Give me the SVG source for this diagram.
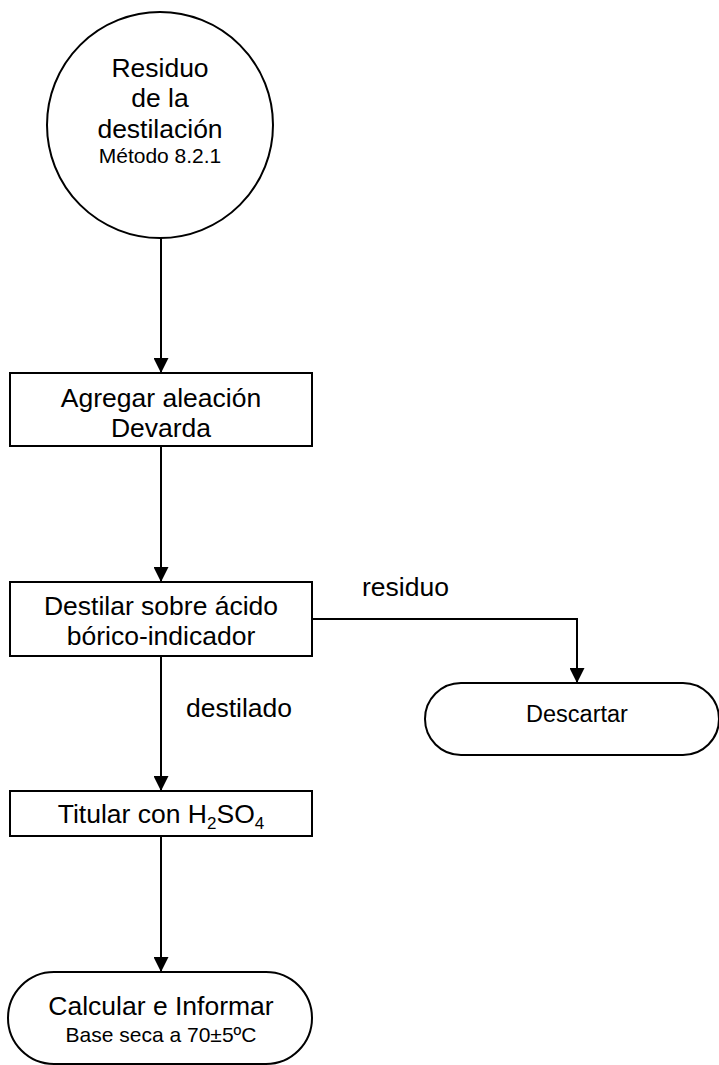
<svg xmlns="http://www.w3.org/2000/svg" width="719" height="1065" viewBox="0 0 719 1065">
<style>
.shape{fill:#fff;stroke:#000;stroke-width:2}
.conn{fill:none;stroke:#000;stroke-width:2}
text{font-family:"Liberation Sans",Arial,sans-serif;fill:#000}
.big{font-size:26.5px}
.small{font-size:21px}
.mid{font-size:23.5px}
</style>
<defs>
<marker id="arr" markerUnits="userSpaceOnUse" markerWidth="15" markerHeight="15" refX="15" refY="7.5" orient="auto" viewBox="0 0 15 15">
<path d="M0,0 L15,7.5 L0,15 Z" fill="#000"/>
</marker>
</defs>
<g id="connectors">
<path class="conn" d="M161,238 V373" marker-end="url(#arr)"/>
<path class="conn" d="M161,446 V582" marker-end="url(#arr)"/>
<path class="conn" d="M161,656 V791" marker-end="url(#arr)"/>
<path class="conn" d="M161,836 V972" marker-end="url(#arr)"/>
<path class="conn" d="M312,619 H577 V683" marker-end="url(#arr)"/>
<text class="big" x="362" y="596">residuo</text>
<text class="big" x="186" y="717">destilado</text>
</g>
<g id="n1">
<circle class="shape" cx="160" cy="125" r="113"/>
<text class="big" x="160" y="77" text-anchor="middle">Residuo</text>
<text class="big" x="160" y="107" text-anchor="middle">de la</text>
<text class="big" x="160" y="138" text-anchor="middle">destilación</text>
<text class="small" x="160" y="163" text-anchor="middle">Método 8.2.1</text>
</g>
<g id="n2">
<rect class="shape" x="10" y="373" width="302" height="73"/>
<text class="big" x="161" y="407" text-anchor="middle">Agregar aleación</text>
<text class="big" x="161" y="437" text-anchor="middle">Devarda</text>
</g>
<g id="n3">
<rect class="shape" x="10" y="582" width="302" height="74"/>
<text class="big" x="161" y="615" text-anchor="middle">Destilar sobre ácido</text>
<text class="big" x="161" y="645" text-anchor="middle">bórico-indicador</text>
</g>
<g id="n4">
<rect class="shape" x="425" y="683" width="294" height="72" rx="36" ry="36"/>
<text class="mid" x="577" y="722" text-anchor="middle">Descartar</text>
</g>
<g id="n5">
<rect class="shape" x="10" y="791" width="302" height="45"/>
<text class="big" x="161" y="823" text-anchor="middle">Titular con H<tspan font-size="17" dy="6">2</tspan><tspan dy="-6">SO</tspan><tspan font-size="17" dy="6">4</tspan></text>
</g>
<g id="n6">
<rect class="shape" x="8" y="972" width="304" height="92" rx="46" ry="46"/>
<text class="big" x="161" y="1015" text-anchor="middle">Calcular e Informar</text>
<text class="small" x="161" y="1042" text-anchor="middle">Base seca a 70±5ºC</text>
</g>
</svg>
